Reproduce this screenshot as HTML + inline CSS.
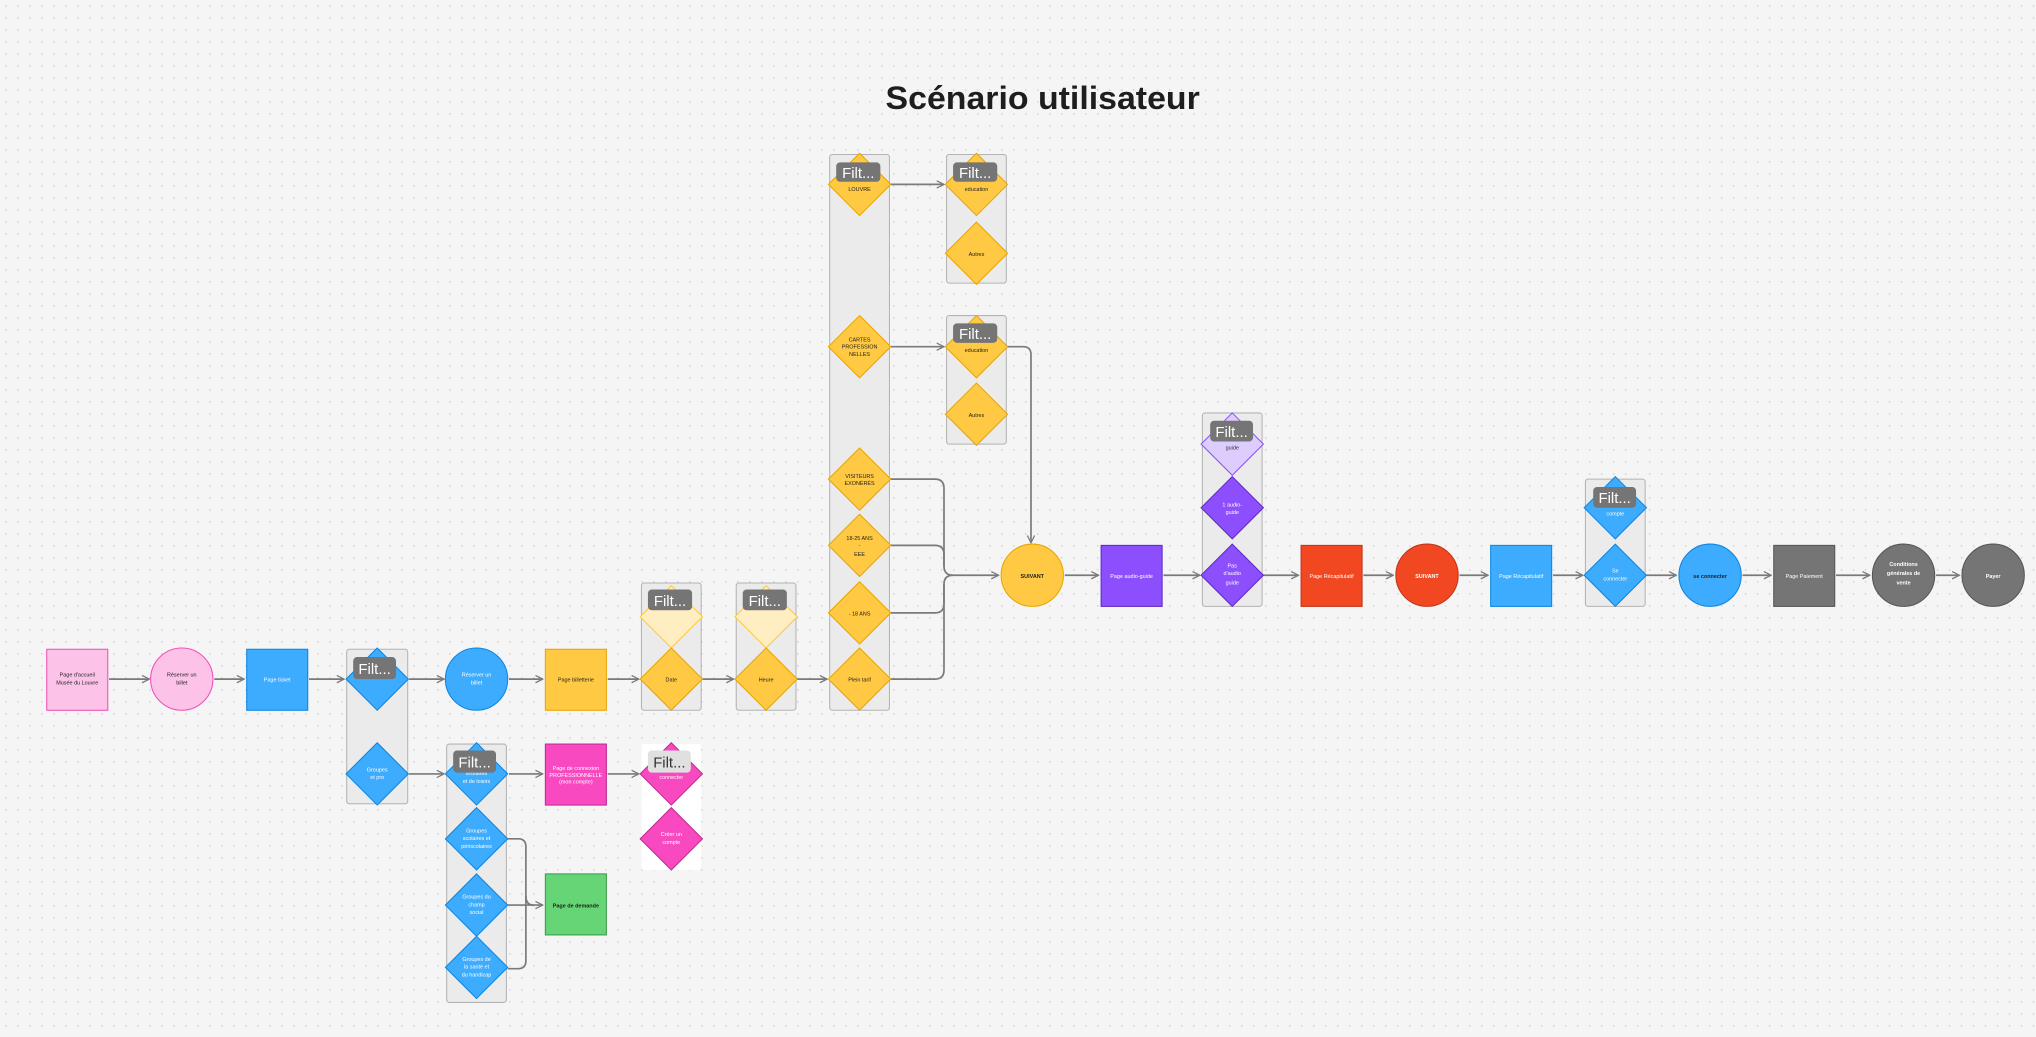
<!DOCTYPE html>
<html><head><meta charset="utf-8"><style>
html,body{margin:0;padding:0;background:#f5f5f5;overflow:hidden}
svg{display:block}
text{font-family:"Liberation Sans",sans-serif}
.s{font-size:4.2px;text-anchor:middle}
.w{fill:#fff}.d{fill:#1e1e1e}
.ln{stroke:#7a7a7a;stroke-width:1.3;fill:none}
.fb{fill:#757575}
.ft{fill:#fff;font-size:11.5px;text-anchor:middle}
.box{fill:#ebebeb;stroke:#b3b3b3;stroke-width:0.8}
.y{fill:#ffc943;stroke:#e8a500;stroke-width:0.8}
.yl{fill:#ffeec2;stroke:#ffc943;stroke-width:0.8}
.b{fill:#3dabfe;stroke:#0d86e0;stroke-width:0.8}
.p{fill:#8d4ffe;stroke:#5e2bc2;stroke-width:0.8}
.pl{fill:#dccdfe;stroke:#8d4ffe;stroke-width:0.8}
.pk{fill:#f849c1;stroke:#c02a90;stroke-width:0.8}
</style></head><body>
<svg width="2036" height="1037" viewBox="0 0 1568 798.6" xmlns="http://www.w3.org/2000/svg">
<defs>
<pattern id="dots" width="9.24" height="9.24" patternUnits="userSpaceOnUse"><circle cx="4.6" cy="4.6" r="0.55" fill="#c4c4c4"/></pattern>
<marker id="a" viewBox="0 0 10 10" refX="9" refY="5" markerWidth="7" markerHeight="7" orient="auto" markerUnits="userSpaceOnUse"><path d="M1 1 L9 5 L1 9" fill="none" stroke="#7a7a7a" stroke-width="1.4"/></marker>
</defs>
<rect width="1568" height="798.6" fill="#f5f5f5"/>
<rect width="1568" height="798.6" fill="url(#dots)"/>

<text x="803" y="84" font-size="25" font-weight="bold" text-anchor="middle" fill="#1e1e1e" textLength="242" lengthAdjust="spacingAndGlyphs">Scénario utilisateur</text>

<!-- containers -->
<rect class="box" x="267" y="500" width="47" height="119" rx="2"/>
<rect class="box" x="494" y="449" width="46" height="98" rx="2"/>
<rect class="box" x="567" y="449" width="46" height="98" rx="2"/>
<rect class="box" x="639" y="119" width="46" height="428" rx="2"/>
<rect class="box" x="729" y="119" width="46" height="99" rx="2"/>
<rect class="box" x="729" y="243" width="46" height="99" rx="2"/>
<rect class="box" x="926" y="318" width="46" height="149" rx="2"/>
<rect class="box" x="1221" y="369" width="46" height="98" rx="2"/>
<rect class="box" x="344" y="573" width="46" height="199" rx="2"/>
<rect x="494" y="573" width="46" height="97" rx="2" fill="#fff"/>

<!-- connectors -->
<g class="ln" marker-end="url(#a)">
<path d="M84 523H115"/><path d="M165 523H188"/><path d="M238 523H265"/><path d="M315 523H342"/>
<path d="M392 523H418"/><path d="M468 523H492"/><path d="M541 523H565"/><path d="M614 523H637"/>
<path d="M686 142H727"/><path d="M686 267H727"/>
<path d="M776 267H788Q794 267 794 273V418"/>
<path d="M686 369H720Q727 369 727 376V436Q727 443 734 443H769"/>
<path d="M820 443H846"/><path d="M896 443H924"/><path d="M973 443H1000"/><path d="M1050 443H1073"/>
<path d="M1124 443H1146"/><path d="M1196 443H1219"/><path d="M1268 443H1291"/><path d="M1342 443H1364"/>
<path d="M1414 443H1440"/><path d="M1491 443H1509"/>
<path d="M315 596H342"/><path d="M392 596H418"/><path d="M468 596H492"/>
<path d="M391 697H418"/>
</g>
<g class="ln">
<path d="M686 420H720Q727 420 727 427V436"/>
<path d="M686 472H720Q727 472 727 465V450Q727 443 734 443"/>
<path d="M686 523H720Q727 523 727 516V450"/>
<path d="M391 646H399Q405 646 405 652V740Q405 746 399 746H391"/>
<path d="M405 690Q405 697 411 697"/>
</g>

<!-- main row -->
<rect x="36" y="500" width="47" height="47" fill="#fdc2e8" stroke="#f24dbb" stroke-width="0.8"/>
<text class="s d" x="59.5" y="521">Page d'accueil</text><text class="s d" x="59.5" y="527">Musée du Louvre</text>
<circle cx="140" cy="523" r="24" fill="#fdc2e8" stroke="#f24dbb" stroke-width="0.8"/>
<text class="s d" x="140" y="521">Réserver un</text><text class="s d" x="140" y="527">billet</text>
<rect x="190" y="500" width="47" height="47" class="b"/>
<text class="s w" x="213.5" y="525">Page ticket</text>
<polygon class="b" points="290.5,499 314.5,523 290.5,547 266.5,523"/>
<rect class="fb" x="272" y="506" width="33" height="17" rx="3"/><text class="ft" x="288.5" y="519">Filt...</text>
<polygon class="b" points="290.5,572 314.5,596 290.5,620 266.5,596"/>
<text class="s w" x="290.5" y="594">Groupes</text><text class="s w" x="290.5" y="600">et pro</text>
<circle cx="367" cy="523" r="24" class="b"/>
<text class="s w" x="367" y="521">Réserver un</text><text class="s w" x="367" y="527">billet</text>
<rect x="420" y="500" width="47" height="47" class="y"/>
<text class="s d" x="443.5" y="525">Page billetterie</text>

<polygon class="yl" points="517,451 541,475 517,499 493,475"/>
<polygon class="y" points="517,499 541,523 517,547 493,523"/>
<text class="s d" x="517" y="525">Date</text>
<rect class="fb" x="499" y="454" width="34" height="16" rx="3"/><text class="ft" x="516" y="466.5">Filt...</text>
<polygon class="yl" points="590,451 614,475 590,499 566,475"/>
<polygon class="y" points="590,499 614,523 590,547 566,523"/>
<text class="s d" x="590" y="525">Heure</text>
<rect class="fb" x="572" y="454" width="34" height="16" rx="3"/><text class="ft" x="589" y="466.5">Filt...</text>

<!-- big column -->
<polygon class="y" points="662,118 686,142 662,166 638,142"/>
<text class="s d" x="662" y="147">LOUVRE</text>
<rect class="fb" x="644" y="125" width="34" height="15" rx="3"/><text class="ft" x="661" y="137">Filt...</text>
<polygon class="y" points="662,243 686,267 662,291 638,267"/>
<text class="s d" x="662" y="263">CARTES</text><text class="s d" x="662" y="268.5">PROFESSION</text><text class="s d" x="662" y="274">NELLES</text>
<polygon class="y" points="662,345 686,369 662,393 638,369"/>
<text class="s d" x="662" y="368">VISITEURS</text><text class="s d" x="662" y="373.5">EXONÉRÉS</text>
<polygon class="y" points="662,396 686,420 662,444 638,420"/>
<text class="s d" x="662" y="416">18-25 ANS</text><text class="s d" x="662" y="421">-</text><text class="s d" x="662" y="428">EEE</text>
<polygon class="y" points="662,448 686,472 662,496 638,472"/>
<text class="s d" x="662" y="474">- 18 ANS</text>
<polygon class="y" points="662,499 686,523 662,547 638,523"/>
<text class="s d" x="662" y="525">Plein tarif</text>

<polygon class="y" points="752,118 776,142 752,166 728,142"/>
<text class="s d" x="752" y="147">education</text>
<rect class="fb" x="734" y="125" width="34" height="15" rx="3"/><text class="ft" x="751" y="137">Filt...</text>
<polygon class="y" points="752,171 776,195 752,219 728,195"/>
<text class="s d" x="752" y="197">Autres</text>
<polygon class="y" points="752,243 776,267 752,291 728,267"/>
<text class="s d" x="752" y="271">education</text>
<rect class="fb" x="734" y="249" width="34" height="15" rx="3"/><text class="ft" x="751" y="261">Filt...</text>
<polygon class="y" points="752,295 776,319 752,343 728,319"/>
<text class="s d" x="752" y="321">Autres</text>

<!-- right row -->
<circle cx="795" cy="443" r="24" class="y"/>
<text class="s d" x="795" y="445" font-weight="bold">SUIVANT</text>
<rect x="848" y="420" width="47" height="47" class="p"/>
<text class="s w" x="871.5" y="445">Page audio-guide</text>
<polygon class="pl" points="949,318 973,342 949,366 925,342"/>
<text class="s" x="949" y="346" fill="#333">guide</text>
<rect class="fb" x="932" y="324" width="33" height="16" rx="3"/><text class="ft" x="948.5" y="336.5">Filt...</text>
<polygon class="p" points="949,367 973,391 949,415 925,391"/>
<text class="s w" x="949" y="390">1 audio-</text><text class="s w" x="949" y="396">guide</text>
<polygon class="p" points="949,419 973,443 949,467 925,443"/>
<text class="s w" x="949" y="437">Pas</text><text class="s w" x="949" y="443">d'audio</text><text class="s w" x="949" y="450">guide</text>
<rect x="1002" y="420" width="47" height="47" fill="#f24822" stroke="#c2341a" stroke-width="0.8"/>
<text class="s w" x="1025.5" y="445">Page Récapitulatif</text>
<circle cx="1099" cy="443" r="24" fill="#f24822" stroke="#c2341a" stroke-width="0.8"/>
<text class="s w" x="1099" y="445" font-weight="bold">SUIVANT</text>
<rect x="1148" y="420" width="47" height="47" class="b"/>
<text class="s w" x="1171.5" y="445">Page Récapitulatif</text>
<polygon class="b" points="1244,367 1268,391 1244,415 1220,391"/>
<text class="s w" x="1244" y="397">compte</text>
<rect class="fb" x="1227" y="375" width="33" height="16" rx="3"/><text class="ft" x="1243.5" y="387.5">Filt...</text>
<polygon class="b" points="1244,419 1268,443 1244,467 1220,443"/>
<text class="s w" x="1244" y="441">Se</text><text class="s w" x="1244" y="447">connecter</text>
<circle cx="1317" cy="443" r="24" class="b"/>
<text class="s d" x="1317" y="445" font-weight="bold">se connecter</text>
<rect x="1366" y="420" width="47" height="47" fill="#757575" stroke="#555" stroke-width="0.8"/>
<text class="s w" x="1389.5" y="445">Page Paiement</text>
<circle cx="1466" cy="443" r="24" fill="#757575" stroke="#555" stroke-width="0.8"/>
<text class="s w" x="1466" y="436" font-weight="bold">Conditions</text><text class="s w" x="1466" y="443" font-weight="bold">générales de</text><text class="s w" x="1466" y="450" font-weight="bold">vente</text>
<circle cx="1535" cy="443" r="24" fill="#757575" stroke="#555" stroke-width="0.8"/>
<text class="s w" x="1535" y="445" font-weight="bold">Payer</text>

<!-- lower group -->
<polygon class="b" points="367,572 391,596 367,620 343,596"/>
<text class="s w" x="367" y="597">scolaires</text><text class="s w" x="367" y="603">et de loisirs</text>
<rect class="fb" x="349" y="578" width="33" height="17" rx="3"/><text class="ft" x="365.5" y="591">Filt...</text>
<polygon class="b" points="367,622 391,646 367,670 343,646"/>
<text class="s w" x="367" y="641">Groupes</text><text class="s w" x="367" y="647">scolaires et</text><text class="s w" x="367" y="653">périscolaires</text>
<polygon class="b" points="367,673 391,697 367,721 343,697"/>
<text class="s w" x="367" y="692">Groupes du</text><text class="s w" x="367" y="698">champ</text><text class="s w" x="367" y="704">social</text>
<polygon class="b" points="367,721 391,745 367,769 343,745"/>
<text class="s w" x="367" y="740">Groupes de</text><text class="s w" x="367" y="746">la santé et</text><text class="s w" x="367" y="752">du handicap</text>
<rect x="420" y="573" width="47" height="47" class="pk"/>
<text class="s w" x="443.5" y="593">Page de connexion</text><text class="s w" x="443.5" y="598.5">PROFESSIONNELLE</text><text class="s w" x="443.5" y="603.5" font-size="3.4">(mon compte)</text>
<rect x="420" y="673" width="47" height="47" fill="#66d575" stroke="#3a9a48" stroke-width="0.8"/>
<text class="s d" x="443.5" y="699" font-weight="bold">Page de demande</text>
<polygon class="pk" points="517,572 541,596 517,620 493,596"/>
<text class="s w" x="517" y="600">connecter</text>
<rect x="499" y="578" width="33" height="17" rx="3" fill="#e0e0e0"/><text class="ft" x="515.5" y="591" fill="#333" style="fill:#333">Filt...</text>
<polygon class="pk" points="517,622 541,646 517,670 493,646"/>
<text class="s w" x="517" y="644">Créer un</text><text class="s w" x="517" y="650">compte</text>
</svg>
</body></html>
